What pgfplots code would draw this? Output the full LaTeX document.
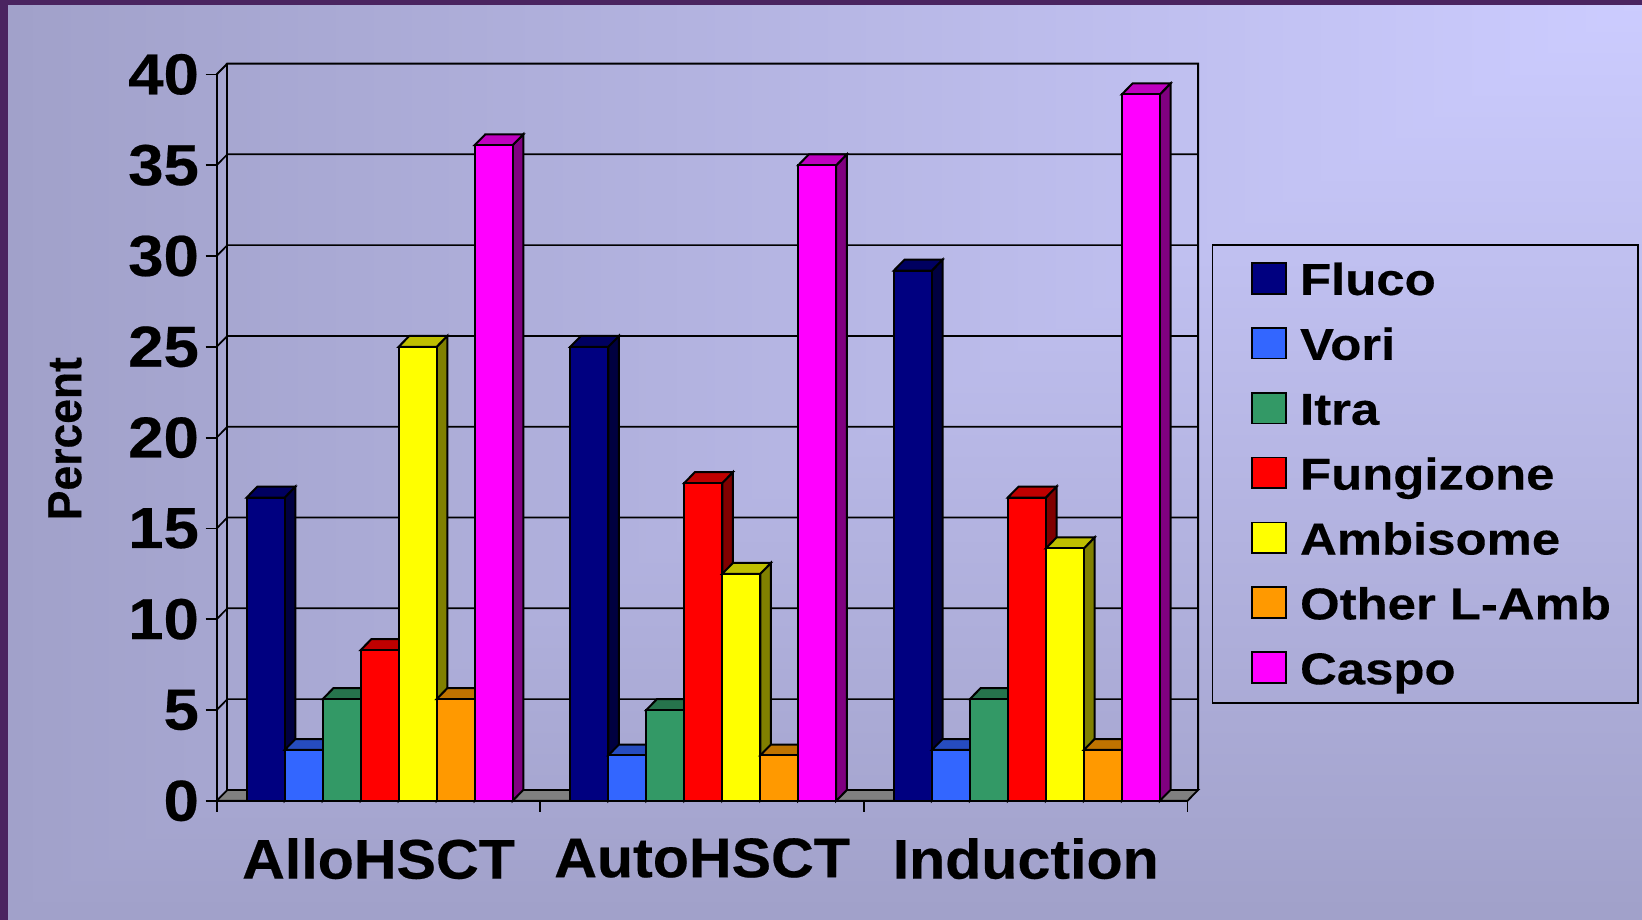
\documentclass[border=0pt]{standalone}
\usepackage{fontspec}
\usepackage{pgfplots}
\pgfplotsset{compat=1.18}
\usepackage{tikz}

\newfontfamily\tickfam{Liberation Sans}[FakeStretch=1.10,FakeBold=0.4]
\newfontfamily\catfam{Liberation Sans}[FakeStretch=1.06,FakeBold=0.4]
\newfontfamily\legfam{Liberation Sans}[FakeStretch=1.14,FakeBold=0.3]
\newfontfamily\labfam{Liberation Sans}[FakeStretch=0.93,FakeBold=0.4]
\newcommand\tickf{\fontsize{29}{29}\tickfam\bfseries\selectfont}
\newcommand\catf{\fontsize{28}{28}\catfam\bfseries\selectfont}
\newcommand\legf{\fontsize{22.4}{22.4}\legfam\bfseries\selectfont}
\newcommand\labf{\fontsize{24}{24}\labfam\bfseries\selectfont}

\definecolor{fluco}{HTML}{000080}
\definecolor{vori}{HTML}{3366FF}
\definecolor{itra}{HTML}{339966}
\definecolor{fungi}{HTML}{FF0000}
\definecolor{ambi}{HTML}{FFFF00}
\definecolor{lamb}{HTML}{FF9900}
\definecolor{caspo}{HTML}{FF00FF}
\definecolor{band}{HTML}{4A2460}
\definecolor{floorc}{HTML}{808080}

% background: lightest in the top right corner
\pgfdeclarefunctionalshading{slidebg}{\pgfpoint{0bp}{0bp}}{\pgfpoint{821bp}{460bp}}{}{
  460 div 1 exch sub exch 821 div 1 exch sub
  2 copy lt {exch} if pop
  dup 0.17 mul 0.8 exch sub
  dup
  3 -1 roll 0.21 mul 1 exch sub
}

% depth of the 3d effect, in axis units
\def\depx{0.0330}
\def\depy{0.60}
\def\barw{0.1174}
\def\bargap{0.0927}

\newcommand\gridline[1]{%
  \pgfmathsetmacro\gy{#1+\depy}%
  \pgfmathsetmacro\gr{3+\depx}%
  \addplot[forget plot,draw=black,line width=0.85bp] coordinates {(0,#1) (\depx,\gy) (\gr,\gy)};
}
\newcommand\drawbar[3]{% left edge, value, colour
  \pgfmathsetmacro\xa{#1}%
  \pgfmathsetmacro\xb{#1+\barw}%
  \pgfmathsetmacro\xc{#1+\depx}%
  \pgfmathsetmacro\xd{#1+\barw+\depx}%
  \pgfmathsetmacro\yt{#2+\depy}%
  \addplot[forget plot,draw=black,line width=1bp,fill=#3!50!black] coordinates {(\xb,0) (\xd,\depy) (\xd,\yt) (\xb,#2)} --cycle;
  \addplot[forget plot,draw=black,line width=1bp,fill=#3!75!black] coordinates {(\xa,#2) (\xb,#2) (\xd,\yt) (\xc,\yt)} --cycle;
  \addplot[forget plot,draw=black,line width=1bp,fill=#3] coordinates {(\xa,0) (\xb,0) (\xb,#2) (\xa,#2)} --cycle;
}
\newcommand\drawgroup[8]{% group start, then one value per series
  \pgfmathsetmacro\gs{#1+\bargap}%
  \pgfmathsetmacro\pa{\gs}\drawbar{\pa}{#2}{fluco}
  \pgfmathsetmacro\pa{\gs+\barw}\drawbar{\pa}{#3}{vori}
  \pgfmathsetmacro\pa{\gs+2*\barw}\drawbar{\pa}{#4}{itra}
  \pgfmathsetmacro\pa{\gs+3*\barw}\drawbar{\pa}{#5}{fungi}
  \pgfmathsetmacro\pa{\gs+4*\barw}\drawbar{\pa}{#6}{ambi}
  \pgfmathsetmacro\pa{\gs+5*\barw}\drawbar{\pa}{#7}{lamb}
  \pgfmathsetmacro\pa{\gs+6*\barw}\drawbar{\pa}{#8}{caspo}
}

\pgfplotsset{
  swatch/.style={legend image code/.code={
    \path (-7.6bp,0) (21.7bp,0);
    \draw[fill=#1,draw=black,line width=0.9bp] (0bp,-7.2bp) rectangle (17bp,8.2bp);}},
}

\begin{document}
\begin{tikzpicture}[x=1bp,y=1bp]
\node[inner sep=0pt,outer sep=0pt,anchor=south west] at (0,0) {\pgfuseshading{slidebg}};
\fill[band] (0,0) rectangle (4.2,460);
\fill[band] (0,457.7) rectangle (821,460);

\begin{axis}[
    at={(108.35bp,59.6bp)},
    anchor=origin,
    scale only axis,
    width=485.4bp,
    height=363.2bp,
    xmin=0, xmax=3,
    ymin=0, ymax=40,
    clip=false,
    axis x line*=bottom,
    axis y line*=left,
    axis line style={line width=0.9bp,black},
    tick align=outside,
    ytick={0,5,...,40},
    xtick={0.5,1.5,2.5},
    xticklabels={AlloHSCT,AutoHSCT,Induction},
    minor xtick={0,1,2,3},
    major x tick style={draw=none},
    minor x tick style={draw=black,line width=0.9bp},
    y tick style={draw=black,line width=0.9bp},
    major tick length=5.5bp,
    minor tick length=5.5bp,
    /pgf/number format/assume math mode=true,
    yticklabel style={font=\tickf,inner sep=0pt,xshift=-3.2bp},
    xticklabel style={font=\catf,inner sep=0pt,yshift=-13bp},
    ylabel={Percent},
    ylabel style={font=\labf,at={(axis description cs:-0.1563,0.4986)},anchor=center},
    legend cell align=left,
    legend style={
      at={(axis description cs:1.0248,0.7668)},
      anchor=north west,
      draw=black,
      line width=0.9bp,
      fill=none,
      font=\legf,
      inner xsep=11.6bp,
      inner ysep=4bp,
      row sep=5.95bp,
      nodes={inner sep=2bp,text height=19.1bp,text depth=3.4bp},
    },
]
% legend
\addlegendimage{swatch=fluco}\addlegendentry{Fluco}
\addlegendimage{swatch=vori}\addlegendentry{Vori}
\addlegendimage{swatch=itra}\addlegendentry{Itra}
\addlegendimage{swatch=fungi}\addlegendentry{Fungizone}
\addlegendimage{swatch=ambi}\addlegendentry{Ambisome}
\addlegendimage{swatch=lamb}\addlegendentry{Other L-Amb}
\addlegendimage{swatch=caspo}\addlegendentry{Caspo}

% walls and floor
\pgfmathsetmacro\gr{3+\depx}
\pgfmathsetmacro\gt{40+\depy}
\addplot[forget plot,draw=black,line width=1bp] coordinates {(0,40) (\depx,\gt) (\gr,\gt) (\gr,\depy)};
\addplot[forget plot,draw=black,line width=0.9bp] coordinates {(\depx,\depy) (\depx,\gt)};
\gridline{5}
\gridline{10}
\gridline{15}
\gridline{20}
\gridline{25}
\gridline{30}
\gridline{35}
\addplot[forget plot,draw=black,line width=0.9bp,fill=floorc] coordinates {(0,0) (3,0) (\gr,\depy) (\depx,\depy)} --cycle;

% Fluco Vori Itra Fungizone Ambisome OtherLAmb Caspo
\drawgroup{0}{16.7}{2.8}{5.6}{8.3}{25}{5.6}{36.1}
\drawgroup{1}{25}{2.5}{5}{17.5}{12.5}{2.5}{35}
\drawgroup{2}{29.2}{2.8}{5.6}{16.7}{13.9}{2.8}{38.9}
\end{axis}
\end{tikzpicture}
\end{document}
